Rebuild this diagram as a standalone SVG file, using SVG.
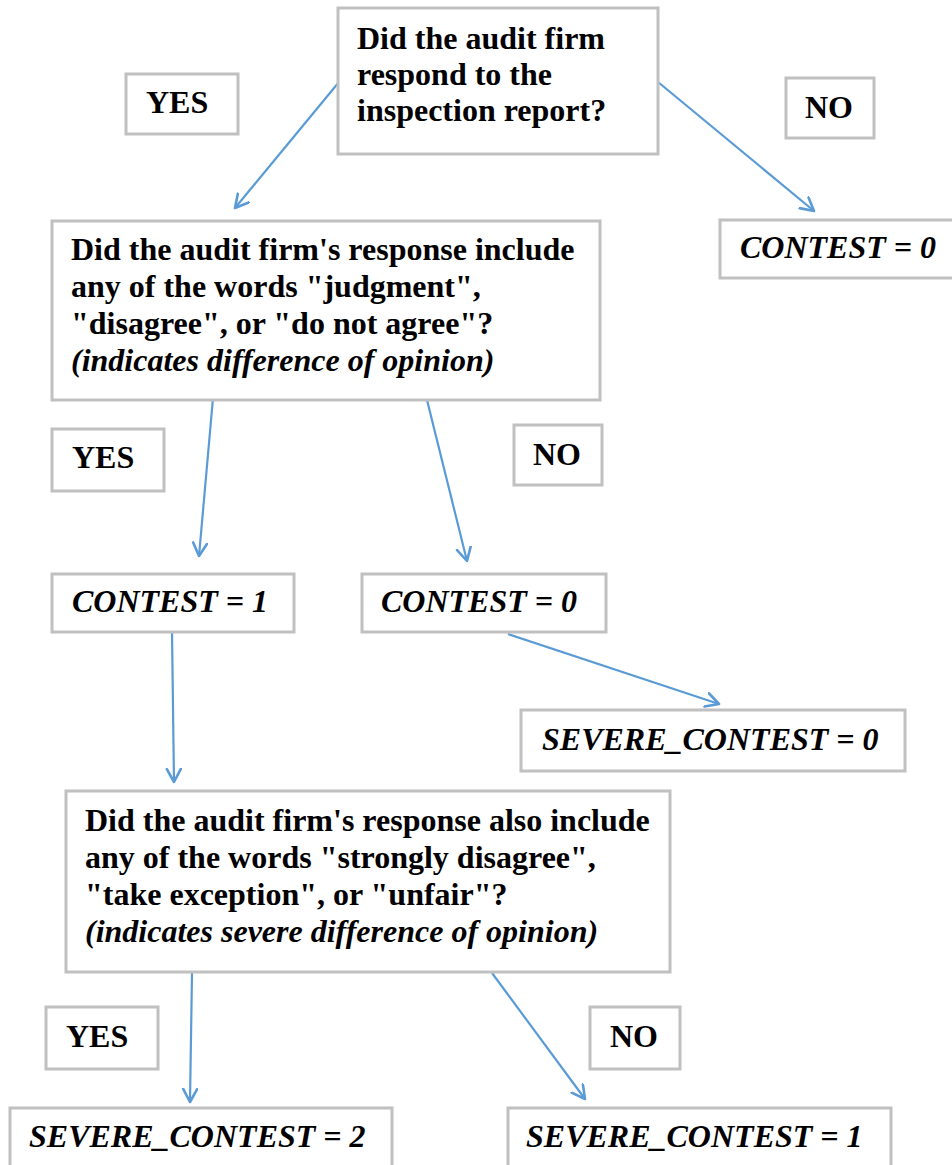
<svg xmlns="http://www.w3.org/2000/svg" width="952" height="1165" viewBox="0 0 952 1165">
<defs>
<style>
.box{fill:#fff;stroke:#c0c0c0;stroke-width:3}
.t{font-family:"Liberation Serif","Times New Roman",serif;font-size:32px;font-weight:bold;fill:#000}
.i{font-style:italic}
.c{stroke:#5b9bd5;stroke-width:2.2;fill:none}
</style>
<marker id="ah" markerUnits="userSpaceOnUse" markerWidth="20" markerHeight="20" refX="14" refY="8" orient="auto">
<path d="M1,1 L14,8 L1,15" fill="none" stroke="#5b9bd5" stroke-width="2.6" stroke-linecap="round" stroke-linejoin="round"/>
</marker>
</defs>
<rect width="952" height="1165" fill="#fff"/>
<g id="connectors">
<line class="c" x1="339" y1="82" x2="235" y2="208" marker-end="url(#ah)"/>
<line class="c" x1="658" y1="82" x2="814" y2="211" marker-end="url(#ah)"/>
<line class="c" x1="213" y1="398" x2="199" y2="556" marker-end="url(#ah)"/>
<line class="c" x1="427" y1="400" x2="467" y2="561" marker-end="url(#ah)"/>
<line class="c" x1="172" y1="632" x2="174" y2="782" marker-end="url(#ah)"/>
<line class="c" x1="508" y1="634" x2="719" y2="704" marker-end="url(#ah)"/>
<line class="c" x1="192" y1="973" x2="190" y2="1102" marker-end="url(#ah)"/>
<line class="c" x1="492" y1="973" x2="585" y2="1099" marker-end="url(#ah)"/>
</g>
<g id="q1"><rect class="box" x="338" y="8" width="320" height="146"/>
<text class="t" x="357" y="49">Did the audit firm</text>
<text class="t" x="357" y="85">respond to the</text>
<text class="t" x="357" y="121">inspection report?</text></g>
<g id="yes1"><rect class="box" x="126" y="74" width="112" height="60"/><text class="t" x="146" y="113">YES</text></g>
<g id="no1"><rect class="box" x="786" y="78" width="88" height="60"/><text class="t" x="805" y="118">NO</text></g>
<g id="contest0a"><rect class="box" x="720" y="220" width="240" height="58"/><text class="t i" x="740" y="258">CONTEST = 0</text></g>
<g id="q2"><rect class="box" x="52" y="221" width="548" height="179"/>
<text class="t" x="71" y="260">Did the audit firm's response include</text>
<text class="t" x="71" y="297">any of the words "judgment",</text>
<text class="t" x="71" y="334">"disagree", or "do not agree"?</text>
<text class="t i" x="71" y="371">(indicates difference  of opinion)</text></g>
<g id="yes2"><rect class="box" x="52" y="429" width="112" height="62"/><text class="t" x="72" y="468">YES</text></g>
<g id="no2"><rect class="box" x="514" y="425" width="88" height="60"/><text class="t" x="533" y="465">NO</text></g>
<g id="contest1"><rect class="box" x="52" y="574" width="242" height="58"/><text class="t i" x="72" y="612">CONTEST = 1</text></g>
<g id="contest0b"><rect class="box" x="362" y="574" width="244" height="58"/><text class="t i" x="381" y="612">CONTEST = 0</text></g>
<g id="severe0"><rect class="box" x="521" y="710" width="384" height="61"/><text class="t i" x="542" y="750">SEVERE_CONTEST = 0</text></g>
<g id="q3"><rect class="box" x="66" y="791" width="604" height="181"/>
<text class="t" x="85" y="831">Did the audit firm's response also include</text>
<text class="t" x="85" y="868">any of the words "strongly disagree",</text>
<text class="t" x="85" y="905">"take exception", or "unfair"?</text>
<text class="t i" x="85" y="942">(indicates severe difference of opinion)</text></g>
<g id="yes3"><rect class="box" x="46" y="1007" width="112" height="62"/><text class="t" x="66" y="1047">YES</text></g>
<g id="no3"><rect class="box" x="590" y="1007" width="90" height="62"/><text class="t" x="610" y="1047">NO</text></g>
<g id="severe2"><rect class="box" x="10" y="1108" width="382" height="70"/><text class="t i" x="29" y="1147">SEVERE_CONTEST = 2</text></g>
<g id="severe1"><rect class="box" x="508" y="1108" width="383" height="70"/><text class="t i" x="526" y="1147">SEVERE_CONTEST = 1</text></g>
</svg>
